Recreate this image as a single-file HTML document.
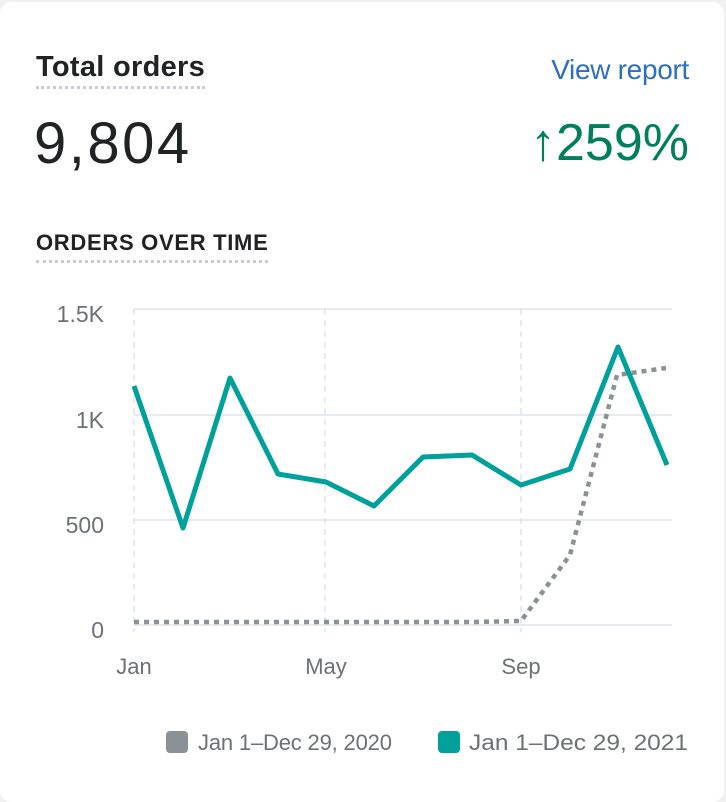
<!DOCTYPE html>
<html><head><style>
body{margin:0;width:726px;height:786px;background:#f1f1f1;font-family:"Liberation Sans",sans-serif;overflow:hidden}
.card{position:absolute;left:0;top:2px;width:724px;height:800px;background:#fff;border-radius:12px}
.t{position:absolute;white-space:nowrap}
</style></head><body>
<div class="card"></div>
<div class="t" style="left:36px;top:51px;font-size:29px;font-weight:bold;color:#202223;letter-spacing:0.3px;border-bottom:3px dotted #c9ccd3;padding-bottom:2px">Total orders</div>
<div class="t" style="right:37px;top:54px;font-size:28px;color:#2c6ecb;letter-spacing:-0.3px">View report</div>
<div class="t" style="left:34px;top:110px;font-size:58px;color:#202223;letter-spacing:2.5px">9,804</div>
<div class="t" style="right:37px;top:113px;font-size:52px;color:#007f5f">↑259%</div>
<div class="t" style="left:36px;top:230px;font-size:22px;font-weight:bold;color:#202223;letter-spacing:0.7px;border-bottom:3px dotted #c9ccd3;padding-bottom:4px">ORDERS OVER TIME</div>
<svg width="726" height="786" style="position:absolute;left:0;top:0">
<g stroke="#dfe3e8" stroke-width="1.5">
<line x1="134" y1="309" x2="672" y2="309"/><line x1="134" y1="415" x2="672" y2="415"/>
<line x1="134" y1="520" x2="672" y2="520"/><line x1="134" y1="625" x2="672" y2="625"/>
</g>
<g stroke="#dfe3e8" stroke-width="1.5" stroke-dasharray="6,5">
<line x1="134" y1="309" x2="134" y2="632"/><line x1="325" y1="309" x2="325" y2="632"/><line x1="521" y1="309" x2="521" y2="632"/>
</g>
<g font-size="23" fill="#6d7175" text-anchor="end">
<text x="104" y="322">1.5K</text><text x="104" y="428">1K</text><text x="104" y="533">500</text><text x="104" y="638">0</text>
</g>
<g font-size="22" fill="#6d7175" text-anchor="middle">
<text x="134" y="674">Jan</text><text x="326" y="674">May</text><text x="521" y="674">Sep</text>
</g>
<polyline fill="none" stroke="#8c9196" stroke-width="4.5" stroke-dasharray="5,5" points="134,622 183,622 231,622 280,622 328,622 376,622 425,622 473,622 521,621 570,555 617,375 666,368"/>
<polyline fill="none" stroke="#00a19a" stroke-width="5" stroke-linejoin="round" points="134,386 183,528 230,378 278,474 326,482 374,506 423,457 472,455 521,485 570,469 618,347 667,465"/>
<rect x="166" y="731" width="22" height="22" rx="4" fill="#8c9196"/>
<text x="198" y="750" font-size="22" fill="#6d7175" textLength="194">Jan 1–Dec 29, 2020</text>
<rect x="438" y="731" width="22" height="22" rx="4" fill="#00a19a"/>
<text x="469" y="750" font-size="22" fill="#6d7175" textLength="219" lengthAdjust="spacingAndGlyphs">Jan 1–Dec 29, 2021</text>
</svg>
</body></html>
